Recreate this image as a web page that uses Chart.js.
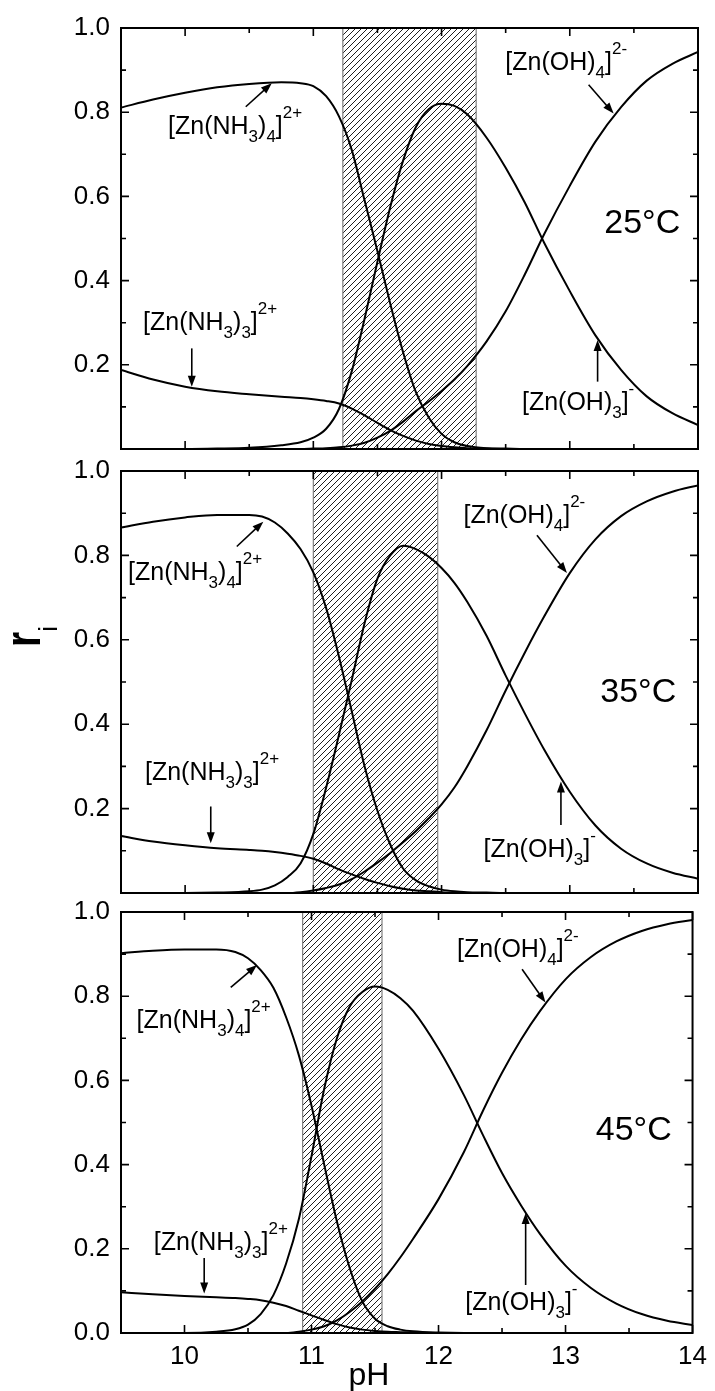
<!DOCTYPE html>
<html lang="en">
<head>
  <meta charset="UTF-8" />
  <title>Zn species fractions vs pH</title>
  <script src="https://cdn.jsdelivr.net/npm/chart.js"></script>
  <style>
    html, body { margin: 0; padding: 0; background: #fff; }
    #wrap { position: relative; width: 715px; height: 1391px; overflow: hidden; }
    #wrap canvas { position: absolute; left: 0; }
  </style>
</head>
<body>
  <div id="wrap">
    <canvas id="c25"></canvas>
    <canvas id="c35"></canvas>
    <canvas id="c45"></canvas>
  </div>
  <script>
    const FONT = '"Liberation Sans", Arial, Helvetica, sans-serif';

    // axis ticks
    const xTicks = [10, 11, 12, 13, 14];
    const xTickLabels = ['10', '11', '12', '13', '14'];
    const xMinor = [10.5, 11.5, 12.5, 13.5];
    const yTicks = [0, 0.2, 0.4, 0.6, 0.8, 1.0];
    const yTickLabels = ['0.0', '0.2', '0.4', '0.6', '0.8', '1.0'];
    const yMinor = [0.1, 0.3, 0.5, 0.7, 0.9];

    // 25 °C
    const ph25 = [9.5, 9.75, 10.0, 10.25, 10.5, 10.75, 10.9, 11.0, 11.1, 11.2, 11.3, 11.4, 11.5, 11.6, 11.7, 11.8, 11.9, 12.0, 12.1, 12.2, 12.35, 12.5, 12.65, 12.8, 13.0, 13.2, 13.4, 13.6, 13.8, 14.0];
    const nh4_25 = [0.811, 0.830, 0.846, 0.859, 0.867, 0.871, 0.869, 0.862, 0.838, 0.79, 0.71, 0.59, 0.47, 0.345, 0.23, 0.135, 0.075, 0.036, 0.016, 0.007, 0.002, 0.001, 0, 0, 0, 0, 0, 0, 0, 0];
    const nh3_25 = [0.188, 0.165, 0.148, 0.137, 0.130, 0.124, 0.121, 0.118, 0.114, 0.108, 0.096, 0.08, 0.062, 0.045, 0.031, 0.02, 0.012, 0.007, 0.004, 0.002, 0.001, 0, 0, 0, 0, 0, 0, 0, 0, 0];
    const oh3_25 = [0, 0, 0, 0.001, 0.003, 0.009, 0.016, 0.027, 0.048, 0.095, 0.185, 0.31, 0.445, 0.575, 0.685, 0.765, 0.807, 0.82, 0.815, 0.795, 0.74, 0.668, 0.585, 0.49, 0.375, 0.27, 0.188, 0.125, 0.085, 0.057];
    const oh4_25 = [0, 0, 0, 0, 0, 0, 0, 0.001, 0.002, 0.004, 0.008, 0.015, 0.027, 0.043, 0.065, 0.09, 0.113, 0.138, 0.165, 0.197, 0.255, 0.327, 0.415, 0.51, 0.625, 0.73, 0.812, 0.875, 0.915, 0.943];
    const band25 = [11.23, 12.27];

    // 35 °C
    const ph35 = [9.5, 9.75, 10.0, 10.25, 10.5, 10.6, 10.7, 10.8, 10.9, 11.0, 11.1, 11.2, 11.3, 11.4, 11.5, 11.6, 11.7, 11.8, 11.9, 12.0, 12.1, 12.2, 12.35, 12.5, 12.65, 12.8, 13.0, 13.2, 13.4, 13.6, 13.8, 14.0];
    const nh4_35 = [0.866, 0.880, 0.890, 0.896, 0.896, 0.892, 0.878, 0.852, 0.815, 0.76, 0.675, 0.56, 0.43, 0.30, 0.195, 0.115, 0.058, 0.03, 0.016, 0.008, 0.004, 0.002, 0.001, 0, 0, 0, 0, 0, 0, 0, 0, 0];
    const nh3_35 = [0.135, 0.122, 0.113, 0.106, 0.102, 0.100, 0.097, 0.093, 0.088, 0.081, 0.07, 0.056, 0.044, 0.033, 0.024, 0.016, 0.01, 0.006, 0.004, 0.002, 0.001, 0, 0, 0, 0, 0, 0, 0, 0, 0, 0, 0];
    const oh3_35 = [0, 0, 0, 0.001, 0.004, 0.008, 0.018, 0.038, 0.07, 0.14, 0.25, 0.375, 0.505, 0.64, 0.745, 0.80, 0.823, 0.815, 0.797, 0.77, 0.735, 0.69, 0.61, 0.515, 0.425, 0.34, 0.24, 0.16, 0.105, 0.07, 0.048, 0.034];
    const oh4_35 = [0, 0, 0, 0, 0, 0, 0, 0, 0.002, 0.006, 0.012, 0.02, 0.033, 0.051, 0.072, 0.095, 0.12, 0.147, 0.177, 0.21, 0.25, 0.30, 0.385, 0.48, 0.57, 0.655, 0.758, 0.838, 0.893, 0.928, 0.951, 0.966];
    const band35 = [11.0, 11.97];

    // 45 °C
    const ph45 = [9.5, 9.75, 10.0, 10.25, 10.4, 10.5, 10.6, 10.7, 10.8, 10.9, 11.0, 11.1, 11.2, 11.3, 11.4, 11.5, 11.6, 11.7, 11.8, 12.0, 12.2, 12.35, 12.5, 12.65, 12.8, 13.0, 13.2, 13.4, 13.6, 13.8, 14.0];
    const nh4_45 = [0.902, 0.908, 0.911, 0.911, 0.905, 0.89, 0.862, 0.82, 0.75, 0.66, 0.54, 0.40, 0.265, 0.155, 0.075, 0.034, 0.016, 0.008, 0.004, 0.001, 0, 0, 0, 0, 0, 0, 0, 0, 0, 0, 0];
    const nh3_45 = [0.097, 0.092, 0.088, 0.085, 0.083, 0.081, 0.078, 0.072, 0.064, 0.053, 0.042, 0.031, 0.021, 0.013, 0.008, 0.005, 0.003, 0.002, 0.001, 0, 0, 0, 0, 0, 0, 0, 0, 0, 0, 0, 0];
    const oh3_45 = [0, 0, 0, 0.003, 0.009, 0.02, 0.045, 0.09, 0.165, 0.27, 0.42, 0.58, 0.70, 0.775, 0.81, 0.823, 0.815, 0.795, 0.765, 0.675, 0.565, 0.47, 0.38, 0.303, 0.235, 0.16, 0.107, 0.07, 0.045, 0.029, 0.019];
    const oh4_45 = [0, 0, 0, 0, 0, 0, 0, 0, 0, 0.003, 0.008, 0.016, 0.03, 0.05, 0.075, 0.105, 0.14, 0.18, 0.224, 0.318, 0.43, 0.528, 0.618, 0.697, 0.765, 0.84, 0.893, 0.93, 0.955, 0.971, 0.981];
    const band45 = [10.93, 11.555];

    // species labels: [text, 0 normal | 1 sub | 2 sup]
    const lblNH4 = [['[Zn(NH', 0], ['3', 1], [')', 0], ['4', 1], [']', 0], ['2+', 2]];
    const lblNH3 = [['[Zn(NH', 0], ['3', 1], [')', 0], ['3', 1], [']', 0], ['2+', 2]];
    const lblOH4 = [['[Zn(OH)', 0], ['4', 1], [']', 0], ['2-', 2]];
    const lblOH3 = [['[Zn(OH)', 0], ['3', 1], [']', 0], ['-', 2]];

    // label anchors and arrows in data units (pH, fraction)
    const panels = {
      c25: {
        top: 0, height: 480, padTop: 28, padBottom: 31, showX: false,
        xs: ph25, series: [nh4_25, nh3_25, oh3_25, oh4_25], band: band25, temp: '25°C', tempAt: [13.269, 0.513],
        notes: [
          { parts: lblNH4, at: [9.867, 0.748], arrow: [[10.473, 0.813], [10.676, 0.869]] },
          { parts: lblNH3, at: [9.672, 0.283], arrow: [[10.052, 0.239], [10.052, 0.148]] },
          { parts: lblOH4, at: [12.497, 0.90], arrow: [[13.147, 0.865], [13.342, 0.797]] },
          { parts: lblOH3, at: [12.627, 0.093], arrow: [[13.217, 0.16], [13.217, 0.259]] }
        ]
      },
      c35: {
        top: 440, height: 480, padTop: 31, padBottom: 27, showX: false, yTitle: true,
        xs: ph35, series: [nh4_35, nh3_35, oh3_35, oh4_35], band: band35, temp: '35°C', tempAt: [13.238, 0.453],
        notes: [
          { parts: lblNH4, at: [9.555, 0.742], arrow: [[10.403, 0.821], [10.610, 0.880]] },
          { parts: lblNH3, at: [9.687, 0.268], arrow: [[10.2, 0.205], [10.2, 0.118]] },
          { parts: lblOH4, at: [12.171, 0.876], arrow: [[12.744, 0.848], [12.978, 0.758]] },
          { parts: lblOH3, at: [12.327, 0.086], arrow: [[12.931, 0.161], [12.931, 0.264]] }
        ]
      },
      c45: {
        top: 880, height: 511, padTop: 32, padBottom: 18, showX: true, xTitle: true,
        xs: ph45, series: [nh4_45, nh3_45, oh3_45, oh4_45], band: band45, temp: '45°C', tempAt: [13.238, 0.458],
        notes: [
          { parts: lblNH4, at: [9.623, 0.724], arrow: [[10.364, 0.821], [10.571, 0.874]] },
          { parts: lblNH3, at: [9.758, 0.197], arrow: [[10.155, 0.178], [10.155, 0.094]] },
          { parts: lblOH4, at: [12.145, 0.894], arrow: [[12.658, 0.864], [12.842, 0.785]] },
          { parts: lblOH3, at: [12.21, 0.055], arrow: [[12.686, 0.114], [12.686, 0.285]] }
        ]
      }
    };

    function hatch(ctx) {
      const c = document.createElement('canvas');
      c.width = 6; c.height = 6;
      const g = c.getContext('2d');
      g.strokeStyle = '#1e1e1e';
      g.lineWidth = 1;
      g.beginPath();
      g.moveTo(0, 6); g.lineTo(6, 0);
      g.moveTo(-1, 1); g.lineTo(1, -1);
      g.moveTo(5, 7); g.lineTo(7, 5);
      g.stroke();
      return ctx.createPattern(c, 'repeat');
    }

    function drawChem(ctx, x, y, parts) {
      let cx = x;
      ctx.textAlign = 'left';
      ctx.textBaseline = 'alphabetic';
      for (const [t, k] of parts) {
        ctx.font = (k ? 17 : 25) + 'px ' + FONT;
        const dy = k === 1 ? 8 : (k === 2 ? -16 : 0);
        ctx.fillText(t, cx, y + dy);
        cx += ctx.measureText(t).width;
      }
    }

    function arrow(ctx, x1, y1, x2, y2) {
      const a = Math.atan2(y2 - y1, x2 - x1), L = 11, W = 4;
      ctx.lineWidth = 1.6;
      ctx.beginPath();
      ctx.moveTo(x1, y1);
      ctx.lineTo(x2 - L * 0.7 * Math.cos(a), y2 - L * 0.7 * Math.sin(a));
      ctx.stroke();
      ctx.beginPath();
      ctx.moveTo(x2, y2);
      ctx.lineTo(x2 - L * Math.cos(a) + W * Math.sin(a), y2 - L * Math.sin(a) - W * Math.cos(a));
      ctx.lineTo(x2 - L * Math.cos(a) - W * Math.sin(a), y2 - L * Math.sin(a) + W * Math.cos(a));
      ctx.closePath();
      ctx.fill();
    }

    const panelDecor = {
      id: 'panelDecor',
      beforeDatasetsDraw(chart) {
        const p = panels[chart.canvas.id];
        const { ctx, chartArea: a, scales: { x } } = chart;
        const x1 = x.getPixelForValue(p.band[0]);
        const x2 = x.getPixelForValue(p.band[1]);
        ctx.save();
        ctx.fillStyle = hatch(ctx);
        ctx.fillRect(x1, a.top, x2 - x1, a.bottom - a.top);
        ctx.strokeStyle = '#808080';
        ctx.lineWidth = 1.2;
        ctx.beginPath();
        ctx.moveTo(x1, a.top); ctx.lineTo(x1, a.bottom);
        ctx.moveTo(x2, a.top); ctx.lineTo(x2, a.bottom);
        ctx.stroke();
        ctx.restore();
      },
      afterDraw(chart) {
        const p = panels[chart.canvas.id];
        const { ctx, chartArea: a, scales: { x, y } } = chart;
        ctx.save();
        ctx.strokeStyle = '#000';
        ctx.fillStyle = '#000';

        // frame
        ctx.lineWidth = 2;
        ctx.strokeRect(a.left, a.top, a.right - a.left, a.bottom - a.top);

        // inward ticks on all four sides
        ctx.lineWidth = 1.6;
        ctx.beginPath();
        const xt = (v, len) => {
          const px = x.getPixelForValue(v);
          ctx.moveTo(px, a.bottom); ctx.lineTo(px, a.bottom - len);
          ctx.moveTo(px, a.top); ctx.lineTo(px, a.top + len);
        };
        const yt = (v, len) => {
          const py = y.getPixelForValue(v);
          ctx.moveTo(a.left, py); ctx.lineTo(a.left + len, py);
          ctx.moveTo(a.right, py); ctx.lineTo(a.right - len, py);
        };
        xTicks.forEach(v => xt(v, 8));
        xMinor.forEach(v => xt(v, 5));
        yTicks.forEach(v => yt(v, 8));
        yMinor.forEach(v => yt(v, 5));
        ctx.stroke();

        // species labels and arrows
        p.notes.forEach(n => {
          drawChem(ctx, x.getPixelForValue(n.at[0]), y.getPixelForValue(n.at[1]), n.parts);
          arrow(ctx,
            x.getPixelForValue(n.arrow[0][0]), y.getPixelForValue(n.arrow[0][1]),
            x.getPixelForValue(n.arrow[1][0]), y.getPixelForValue(n.arrow[1][1]));
        });

        // temperature
        ctx.font = '34px ' + FONT;
        ctx.textAlign = 'left';
        ctx.textBaseline = 'alphabetic';
        ctx.fillText(p.temp, x.getPixelForValue(p.tempAt[0]), y.getPixelForValue(p.tempAt[1]));

        // y axis title r_i (rotated)
        if (p.yTitle) {
          ctx.save();
          ctx.translate(40, 647 - p.top);
          ctx.rotate(-Math.PI / 2);
          ctx.save();
          ctx.scale(0.78, 1);
          ctx.font = 'bold 50px ' + FONT;
          ctx.fillText('r', 0, 0);
          const rw = ctx.measureText('r').width * 0.78;
          ctx.restore();
          ctx.font = '26px ' + FONT;
          ctx.fillText('i', rw, 17);
          ctx.restore();
        }

        // x axis title
        if (p.xTitle) {
          ctx.font = '32px ' + FONT;
          ctx.textAlign = 'center';
          ctx.fillText('pH', 369, 1385 - p.top);
        }
        ctx.restore();
      }
    };

    Object.keys(panels).forEach(id => {
      const p = panels[id];
      const canvas = document.getElementById(id);
      canvas.width = 715;
      canvas.height = p.height;
      canvas.style.top = p.top + 'px';
      const yLabels = p.showX ? yTickLabels : [''].concat(yTickLabels.slice(1));

      new Chart(canvas, {
        type: 'line',
        data: {
          datasets: p.series.map(ys => ({
            data: p.xs.map((v, i) => ({ x: v, y: ys[i] })),
            borderColor: '#000',
            borderWidth: 2,
            pointRadius: 0,
            fill: false,
            cubicInterpolationMode: 'monotone'
          }))
        },
        options: {
          responsive: false,
          animation: false,
          events: [],
          layout: { padding: { top: p.padTop, right: 17, bottom: p.padBottom, left: 0 } },
          plugins: { legend: { display: false }, tooltip: { enabled: false } },
          scales: {
            x: {
              type: 'linear', min: 9.5, max: 14,
              grid: { display: false, drawTicks: false },
              border: { display: false },
              afterBuildTicks: s => { s.ticks = xTicks.map(v => ({ value: v })); },
              ticks: {
                display: p.showX, autoSkip: false, maxRotation: 0, padding: 8,
                color: '#000', font: { family: FONT, size: 26 },
                callback: (v, i) => xTickLabels[i]
              },
              afterFit: s => { s.height = p.showX ? 40 : 0; }
            },
            y: {
              type: 'linear', min: 0, max: 1,
              grid: { display: false, drawTicks: false },
              border: { display: false },
              afterBuildTicks: s => { s.ticks = yTicks.map(v => ({ value: v })); },
              ticks: {
                autoSkip: false, padding: 11,
                color: '#000', font: { family: FONT, size: 26 },
                callback: (v, i) => yLabels[i]
              },
              afterFit: s => { s.width = 121; }
            }
          }
        },
        plugins: [panelDecor]
      });
    });
  </script>
</body>
</html>
